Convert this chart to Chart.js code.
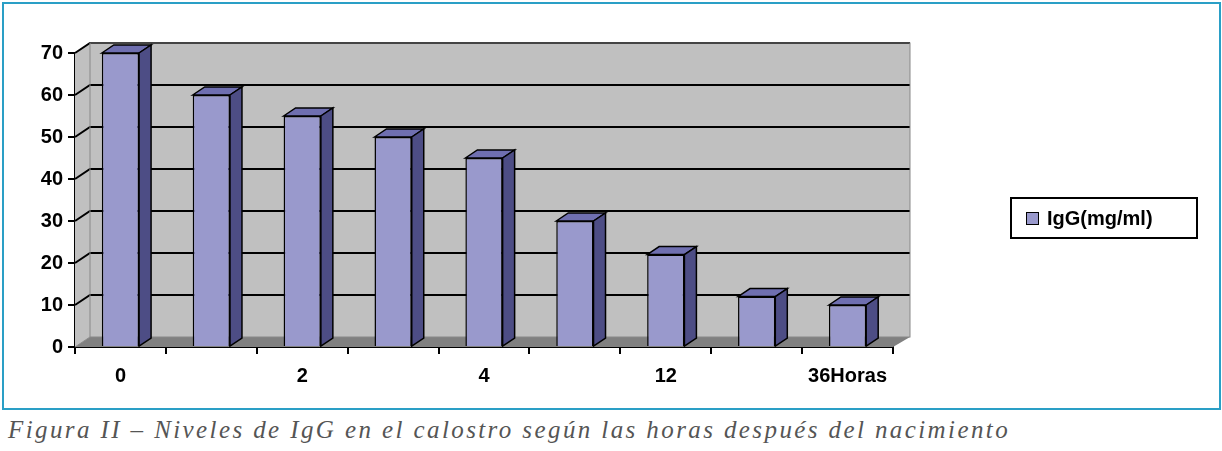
<!DOCTYPE html>
<html><head><meta charset="utf-8">
<script src="https://cdn.jsdelivr.net/npm/chart.js@4/dist/chart.umd.min.js"></script>
<style>
body{margin:0;background:#fff;width:1222px;height:451px;position:relative;overflow:hidden}
#frame{position:absolute;left:2px;top:2px;width:1215px;height:404px;border:2px solid #2a9fc6}
canvas{position:absolute;left:0;top:0}
#legend{position:absolute;left:1010px;top:197px;width:184px;height:38px;border:2px solid #000;font:bold 20px "Liberation Sans",Arial,sans-serif;display:flex;align-items:center}
#legend span.sw{display:inline-block;width:11px;height:11px;background:#9999cc;border:1px solid #000;margin:0 8px 0 14px}
#cap{position:absolute;left:8px;top:416px;font:italic 25px "Liberation Serif",serif;color:#555;letter-spacing:2.4px;white-space:nowrap}
</style></head><body>
<div id="frame"></div>
<canvas id="c" width="1222" height="410"></canvas>
<div id="legend"><span class="sw"></span>IgG(mg/ml)</div>
<div id="cap">Figura II – Niveles de IgG en el calostro según las horas después del nacimiento</div>
<script>
const categories = ["0","","2","","4","","12","","36Horas"];
const igg = [70,60,55,50,45,30,22,12,10];
const yTicks = [0,10,20,30,40,50,60,70];
const seriesName = "IgG(mg/ml)";

const WDX=15, WDY=10, BDX=12, BDY=8;
const wall = {
  id:'wall',
  beforeDatasetsDraw(ch){
    const c=ch.ctx, a=ch.chartArea, y=ch.scales.y;
    c.save();
    const L=a.left, R=a.right, B=a.bottom, T=y.getPixelForValue(70);
    c.fillStyle='#c0c0c0';
    c.fillRect(L+WDX,T-WDY,R-L+2,B-T);
    c.beginPath();c.moveTo(L,T);c.lineTo(L+WDX,T-WDY);c.lineTo(L+WDX,B-WDY);c.lineTo(L,B);c.closePath();c.fill();
    c.fillStyle='#808080';
    c.beginPath();c.moveTo(L,B);c.lineTo(L+WDX,B-WDY);c.lineTo(R+WDX+2,B-WDY);c.lineTo(R,B);c.closePath();c.fill();
    c.strokeStyle='#000';c.lineWidth=2;
    yTicks.forEach(v=>{
      if(v===0) return;
      const py=y.getPixelForValue(v);
      c.beginPath();c.moveTo(L,py);c.lineTo(L+WDX,py-WDY);c.lineTo(R+WDX+2,py-WDY);c.stroke();
    });
    c.strokeStyle='#888';c.lineWidth=1;
    c.strokeRect(L+WDX,T-WDY,R-L+2,B-T);
    c.beginPath();c.moveTo(L+WDX,B-WDY);c.lineTo(L,B);c.stroke();
    c.restore();
  },
  afterDatasetsDraw(ch){
    const c=ch.ctx;
    c.save();c.strokeStyle='#000';c.lineWidth=1.5;
    ch.getDatasetMeta(0).data.forEach(b=>{
      const x0=b.x-b.width/2, x1=b.x+b.width/2, t=b.y, bs=b.base;
      c.fillStyle='#6f6fb0';
      c.beginPath();c.moveTo(x0,t);c.lineTo(x0+BDX,t-BDY);c.lineTo(x1+BDX,t-BDY);c.lineTo(x1,t);c.closePath();c.fill();c.stroke();
      c.fillStyle='#4d4d85';
      c.beginPath();c.moveTo(x1,t);c.lineTo(x1+BDX,t-BDY);c.lineTo(x1+BDX,bs-BDY);c.lineTo(x1,bs);c.closePath();c.fill();c.stroke();
    });
    c.restore();
  }
};
const font={family:'"Liberation Sans",Arial,sans-serif',size:20,weight:'bold'};
new Chart(document.getElementById('c'),{
  type:'bar',
  data:{labels:categories,datasets:[{label:seriesName,data:igg,backgroundColor:'#9999cc',borderColor:'#000',borderWidth:1.5,barPercentage:0.41,categoryPercentage:1}]},
  options:{responsive:false,animation:false,
    layout:{padding:{left:0,top:53,right:329,bottom:0}},
    plugins:{legend:{display:false},tooltip:{enabled:false}},
    scales:{
      x:{offset:true,grid:{offset:true,drawOnChartArea:false,tickLength:7,color:'#000',lineWidth:2},
         border:{color:'#000',width:2},
         ticks:{color:'#000',font,padding:10,autoSkip:false,maxRotation:0},
         afterFit(s){s.height=63;}},
      y:{min:0,max:70,afterBuildTicks(s){s.ticks=yTicks.map(v=>({value:v}));},
         grid:{drawOnChartArea:false,tickLength:7,color:'#000',lineWidth:2},
         border:{color:'#000',width:2},
         ticks:{color:'#000',font,padding:5},
         afterFit(s){s.width=75;}}
    }},
  plugins:[wall]
});
</script></body></html>
